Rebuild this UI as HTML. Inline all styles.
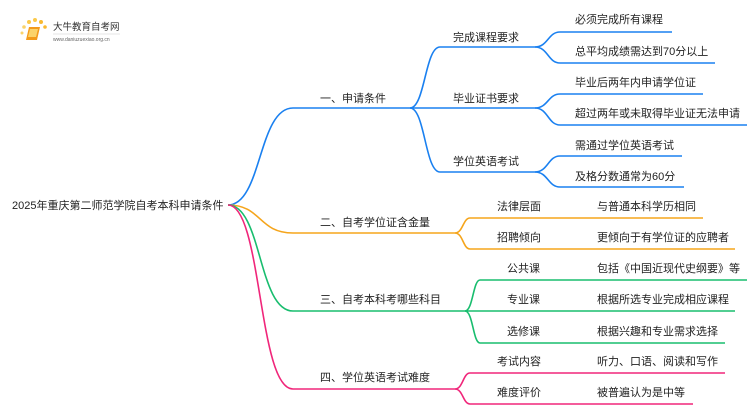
<!DOCTYPE html>
<html><head><meta charset="utf-8"><style>
html,body{margin:0;padding:0;background:#fff;}
svg{display:block;}
text{font-family:"Liberation Sans","Noto Sans CJK SC",sans-serif;font-size:11px;fill:#222;}
</style></head><body>
<svg width="750" height="410" viewBox="0 0 750 410" xmlns="http://www.w3.org/2000/svg">
<g>
<circle cx="22" cy="33" r="1.5" fill="#fbd36a"/><circle cx="24" cy="27" r="1.8" fill="#fbd36a"/><circle cx="29" cy="22" r="2" fill="#fbc94a"/><circle cx="35" cy="20" r="2" fill="#fbc94a"/><circle cx="41" cy="22" r="2" fill="#f9b930"/><circle cx="45" cy="27" r="1.8" fill="#f9b930"/>
<path d="M29 27 L40 27 L37 40 L26 40 Z" fill="#f39a1a"/>
<path d="M30 29 L38 29 L36 37 L28 37 Z" fill="#fbd36a"/>
<text x="53" y="30" style="font-size:9.5px;fill:#333">大牛教育自考网</text>
<line x1="53" y1="34" x2="120" y2="34" stroke="#ccc" stroke-width="0.5"/>
<text x="53" y="41" style="font-size:5px;fill:#666">www.daniuzuexiao.org.cn</text>
</g>
<text x="12" y="209">2025年重庆第二师范学院自考本科申请条件</text>
<g fill="none" stroke-width="1.6">
<g stroke="#1a80f0">
<path d="M228 205 C262 205 258 108 293 108 L410 108"/>
<path d="M410 108 C425 108 425 47 440 47 L535 47"/>
<path d="M410 108 L535 108"/>
<path d="M410 108 C425 108 425 172 440 172 L535 172"/>
<path d="M535 47 C548 47 548 32 560 32 L672 32"/>
<path d="M535 47 C548 47 548 63 560 63 L715 63"/>
<path d="M535 108 C548 108 548 94 560 94 L703 94"/>
<path d="M535 108 C548 108 548 125 560 125 L747 125"/>
<path d="M535 172 C548 172 548 156 560 156 L682 156"/>
<path d="M535 172 C548 172 548 187 560 187 L684 187"/>
</g>
<g stroke="#f5a51c">
<path d="M228 205 C262 205 258 233 293 233 L455 233"/>
<path d="M455 233 C463 233 463 218 470 218 L703 218"/>
<path d="M455 233 C463 233 463 249 470 249 L735 249"/>
</g>
<g stroke="#18bd6e">
<path d="M228 205 C262 205 258 311 293 311 L465 311"/>
<path d="M465 311 C473 311 473 280 480 280 L747 280"/>
<path d="M465 311 L735 311"/>
<path d="M465 311 C473 311 473 343 480 343 L725 343"/>
</g>
<g stroke="#f0267a">
<path d="M228 205 C262 205 258 389 293 389 L455 389"/>
<path d="M455 389 C463 389 463 373 470 373 L725 373"/>
<path d="M455 389 C463 389 463 404 470 404 L693 404"/>
</g>
</g>
<text x="320" y="102">一、申请条件</text>
<text x="453" y="41">完成课程要求</text>
<text x="453" y="102">毕业证书要求</text>
<text x="453" y="165">学位英语考试</text>
<text x="575" y="23">必须完成所有课程</text>
<text x="575" y="55">总平均成绩需达到70分以上</text>
<text x="575" y="86">毕业后两年内申请学位证</text>
<text x="575" y="117">超过两年或未取得毕业证无法申请</text>
<text x="575" y="149">需通过学位英语考试</text>
<text x="575" y="180">及格分数通常为60分</text>
<text x="320" y="226">二、自考学位证含金量</text>
<text x="497" y="210">法律层面</text>
<text x="497" y="241">招聘倾向</text>
<text x="597" y="210">与普通本科学历相同</text>
<text x="597" y="241">更倾向于有学位证的应聘者</text>
<text x="320" y="303">三、自考本科考哪些科目</text>
<text x="507" y="272">公共课</text>
<text x="507" y="303">专业课</text>
<text x="507" y="335">选修课</text>
<text x="597" y="272">包括《中国近现代史纲要》等</text>
<text x="597" y="303">根据所选专业完成相应课程</text>
<text x="597" y="335">根据兴趣和专业需求选择</text>
<text x="320" y="381">四、学位英语考试难度</text>
<text x="497" y="365">考试内容</text>
<text x="497" y="396">难度评价</text>
<text x="597" y="365">听力、口语、阅读和写作</text>
<text x="597" y="396">被普遍认为是中等</text>
</svg>
</body></html>
